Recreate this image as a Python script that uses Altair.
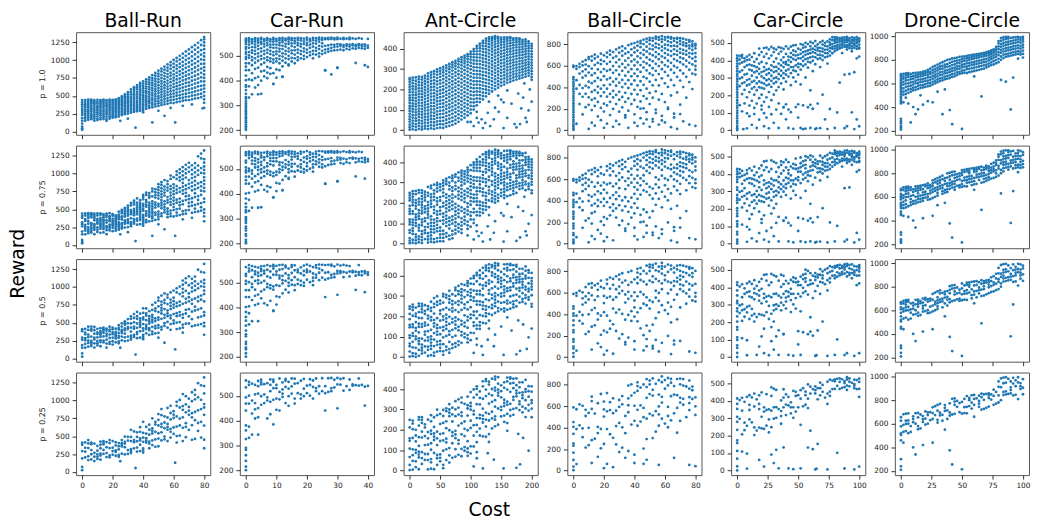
import altair as alt
import pandas as pd

ENVS = ["Ball-Run", "Car-Run", "Ant-Circle", "Ball-Circle", "Car-Circle", "Drone-Circle"]
P_LABELS = ["p = 1.0", "p = 0.75", "p = 0.5", "p = 0.25"]

X_DOMAIN = {"Ball-Run": [-4, 84], "Car-Run": [-2, 42], "Ant-Circle": [-10, 210],
            "Ball-Circle": [-4, 84], "Car-Circle": [-5, 105], "Drone-Circle": [-5, 105]}
Y_DOMAIN = {"Ball-Run": [-45, 1390], "Car-Run": [181, 594], "Ant-Circle": [-23, 482],
            "Ball-Circle": [-43, 913], "Car-Circle": [-27, 562], "Drone-Circle": [165, 1035]}
X_TICKS = {"Ball-Run": [0, 20, 40, 60, 80], "Car-Run": [0, 10, 20, 30, 40],
           "Ant-Circle": [0, 50, 100, 150, 200], "Ball-Circle": [0, 20, 40, 60, 80],
           "Car-Circle": [0, 25, 50, 75, 100], "Drone-Circle": [0, 25, 50, 75, 100]}
Y_TICKS = {"Ball-Run": [0, 250, 500, 750, 1000, 1250], "Car-Run": [200, 300, 400, 500],
           "Ant-Circle": [0, 100, 200, 300, 400], "Ball-Circle": [0, 200, 400, 600, 800],
           "Car-Circle": [0, 100, 200, 300, 400, 500], "Drone-Circle": [200, 400, 600, 800, 1000]}

# which runs are kept in each row (p = 1.0 keeps all, p = 0.25 the fewest)
TIER_SEQ = [int(c) for c in (
    "3709528416" "9307582641" "8059361724" "9508637214" "5072981364"
    "2816049573" "6493108275" "1847290365" "0538176942" "7265013849")]
ROW_KEEP = [10, 8, 6, 4]

# cost -> rewards
BALL_RUN = {
    0: [25, 45, 70, 112, 150, 188, 232, 262, 291, 318, 352, 381, 409, 440],
    2: [150, 178, 203, 231, 254, 283, 309, 337, 362, 384, 412, 441],
    4: [165, 192, 218, 251, 272, 298, 333, 352, 377, 399, 427, 445],
    6: [174, 201, 226, 247, 279, 306, 327, 358, 388, 411, 431, 446],
    8: [152, 184, 212, 238, 266, 292, 318, 346, 371, 396, 419, 440],
    10: [161, 182, 214, 246, 268, 296, 317, 341, 364, 392, 414, 444],
    12: [171, 196, 229, 254, 277, 301, 331, 354, 381, 401, 424, 441],
    14: [176, 199, 224, 251, 281, 308, 336, 359, 386, 409, 431, 446],
    16: [151, 172, 208, 241, 263, 287, 314, 346, 369, 391, 418, 440],
    18: [181, 204, 231, 259, 286, 309, 334, 356, 379, 404, 426, 445],
    20: [194, 216, 241, 268, 291, 316, 339, 366, 386, 408, 431, 442],
    22: [201, 226, 254, 279, 302, 326, 348, 371, 394, 416, 434, 451],
    24: [212, 238, 266, 289, 316, 336, 359, 382, 404, 426, 446, 466],
    26: [231, 254, 281, 306, 329, 356, 379, 401, 424, 446, 469, 491],
    28: [244, 271, 296, 319, 346, 369, 396, 421, 444, 471, 494, 519],
    30: [251, 279, 306, 331, 359, 386, 411, 439, 466, 491, 521, 551],
    32: [264, 291, 319, 351, 376, 404, 431, 461, 489, 521, 554, 589],
    34: [276, 301, 329, 361, 389, 416, 446, 474, 506, 534, 566, 594, 621],
    36: [284, 311, 341, 369, 401, 429, 461, 489, 521, 554, 591, 619, 651],
    38: [291, 321, 349, 381, 409, 441, 469, 501, 529, 561, 589, 626, 654, 681],
    40: [301, 329, 361, 389, 421, 449, 481, 509, 546, 574, 606, 639, 671, 701],
    42: [319, 351, 379, 411, 439, 471, 499, 536, 564, 601, 629, 666, 699, 731],
    44: [331, 359, 396, 424, 456, 489, 521, 554, 591, 624, 661, 689, 726, 759],
    46: [339, 376, 404, 441, 469, 506, 539, 576, 609, 646, 679, 716, 749, 789],
    48: [351, 384, 421, 454, 491, 524, 561, 594, 631, 664, 701, 739, 781, 819],
    50: [359, 396, 429, 466, 499, 541, 574, 611, 649, 691, 729, 771, 809, 851],
    52: [371, 404, 441, 479, 516, 554, 591, 629, 671, 709, 751, 794, 841, 879],
    54: [381, 419, 456, 494, 531, 569, 611, 649, 691, 734, 776, 819, 866, 909],
    56: [389, 431, 469, 511, 549, 591, 629, 671, 714, 761, 804, 851, 894, 941],
    58: [401, 439, 481, 519, 561, 601, 644, 691, 734, 781, 824, 876, 924, 971],
    60: [399, 446, 489, 531, 574, 621, 664, 711, 754, 801, 849, 901, 949, 1001],
    62: [411, 454, 501, 544, 591, 634, 681, 729, 776, 824, 876, 924, 981, 1029],
    64: [419, 466, 509, 556, 601, 649, 696, 744, 796, 844, 901, 949, 1006, 1059],
    66: [431, 474, 521, 569, 616, 664, 716, 764, 816, 869, 921, 974, 1031, 1089],
    68: [439, 486, 529, 581, 629, 681, 729, 781, 834, 891, 944, 1001, 1059, 1121],
    70: [441, 489, 541, 589, 641, 689, 746, 799, 856, 909, 966, 1024, 1086, 1149],
    72: [449, 501, 549, 601, 654, 711, 764, 821, 874, 936, 989, 1051, 1114, 1181],
    74: [461, 509, 561, 614, 671, 724, 781, 839, 896, 954, 1016, 1079, 1146, 1209],
    76: [469, 521, 574, 631, 684, 741, 799, 861, 919, 981, 1044, 1111, 1174, 1241],
    78: [481, 529, 586, 639, 701, 759, 821, 879, 946, 1009, 1076, 1139, 1211, 1279],
    80: [331, 402, 451, 498, 552, 601, 648, 702, 751, 798, 852, 901, 949, 1002,
         1051, 1098, 1152, 1201, 1249, 1291, 1322],
}
BALL_RUN_SPARSE = [(35, 55), (46, 128), (54, 220), (61, 128), (79, 325), (25, 150),
                   (30, 180), (40, 270), (50, 290), (58, 330), (66, 360), (72, 380)]

CAR_RUN = {
    0: [201, 208, 215, 222, 231, 238, 246, 252, 261, 268, 276, 283, 291, 298, 306, 315,
        326, 333, 346, 361, 374, 381, 401, 419, 441, 455, 469, 486, 494, 506, 514, 526,
        534, 546, 555, 562, 568],
    1: [331, 376, 404, 441, 469, 491, 501, 514, 531, 544, 556, 564, 570],
    2: [344, 401, 429, 461, 481, 494, 511, 521, 534, 549, 557, 566],
    3: [371, 409, 446, 471, 489, 506, 519, 533, 544, 556, 563, 570],
    4: [344, 381, 414, 451, 479, 496, 509, 526, 539, 552, 560, 568],
    5: [346, 399, 436, 464, 486, 499, 516, 529, 546, 554, 565, 571],
    6: [416, 439, 471, 489, 506, 519, 536, 547, 559, 566],
    7: [409, 431, 454, 481, 494, 511, 524, 541, 551, 562, 570],
    8: [426, 449, 476, 489, 506, 519, 533, 544, 557, 566],
    9: [386, 429, 471, 484, 501, 514, 531, 544, 556, 565, 571],
    10: [411, 444, 476, 489, 506, 517, 531, 544, 558, 567],
    11: [441, 469, 486, 499, 516, 527, 541, 551, 562, 570],
    12: [414, 456, 479, 496, 509, 526, 539, 554, 563, 571],
    13: [471, 489, 506, 519, 536, 547, 561, 568],
    14: [464, 486, 499, 516, 529, 546, 556, 566, 572],
    15: [476, 491, 509, 521, 538, 549, 562, 570],
    16: [469, 489, 504, 521, 534, 549, 559, 569],
    17: [481, 494, 511, 524, 541, 551, 563, 571],
    18: [489, 506, 519, 536, 547, 561, 570],
    19: [486, 499, 516, 529, 546, 557, 568],
    20: [494, 511, 524, 541, 551, 564, 572],
    21: [501, 514, 531, 544, 558, 567],
    22: [489, 506, 519, 536, 549, 562, 571],
    23: [504, 519, 531, 548, 560, 570],
    24: [496, 509, 526, 539, 556, 566, 572],
    25: [506, 519, 536, 549, 563, 571],
    26: [441, 511, 524, 539, 566, 570],
    27: [516, 527, 541, 566, 571],
    28: [424, 519, 531, 544, 567, 572],
    29: [521, 534, 543, 565, 570],
    30: [451, 522, 536, 546, 566, 572],
    31: [524, 538, 545, 568],
    32: [521, 534, 542, 566, 571],
    33: [527, 539, 545, 568],
    34: [524, 536, 544, 566, 572],
    35: [529, 541, 546, 569],
    36: [527, 537, 543, 567],
    37: [531, 541, 546, 570],
    38: [529, 539, 544, 568],
    39: [461, 527, 537, 545],
    40: [454, 531, 540, 567],
}
CAR_RUN_SPARSE = [(12, 415), (9, 385), (26, 440), (30, 450), (14, 460), (36, 470)]

ANT_CIRCLE = {
    0: [2, 14, 27, 41, 53, 66, 80, 94, 107, 119, 133, 146, 158, 171, 186, 199, 212, 224, 237, 249, 256],
    5: [4, 19, 33, 47, 62, 75, 91, 104, 118, 131, 147, 160, 174, 189, 203, 216, 231, 245, 258],
    10: [1, 16, 30, 45, 58, 73, 87, 101, 116, 129, 143, 157, 172, 185, 200, 214, 228, 243, 259],
    15: [6, 21, 35, 49, 64, 78, 92, 106, 121, 135, 149, 164, 178, 192, 206, 221, 236, 250, 263],
    20: [3, 17, 32, 46, 61, 76, 90, 104, 119, 133, 148, 162, 177, 191, 205, 220, 234, 249, 262],
    25: [8, 22, 37, 52, 66, 81, 96, 110, 125, 139, 154, 169, 183, 198, 212, 227, 241, 255, 268],
    30: [5, 20, 35, 51, 66, 81, 97, 112, 127, 143, 158, 173, 189, 204, 219, 235, 250, 265, 279],
    35: [9, 24, 40, 56, 71, 87, 102, 118, 134, 149, 165, 180, 196, 211, 227, 242, 258, 272, 285],
    40: [6, 22, 38, 54, 70, 86, 102, 118, 134, 150, 166, 182, 198, 214, 230, 246, 262, 277, 290],
    45: [10, 27, 43, 60, 76, 92, 109, 125, 142, 158, 174, 191, 207, 224, 240, 256, 272, 287, 299],
    50: [12, 29, 45, 62, 79, 95, 112, 129, 145, 162, 179, 196, 212, 229, 245, 262, 278, 292, 305],
    55: [11, 28, 46, 63, 80, 97, 114, 131, 148, 166, 183, 200, 217, 234, 251, 268, 284, 298, 311],
    60: [17, 34, 51, 69, 86, 104, 121, 138, 156, 173, 190, 208, 225, 242, 259, 276, 292, 306, 319],
    65: [21, 39, 57, 74, 92, 110, 127, 145, 163, 180, 198, 215, 233, 250, 267, 284, 300, 313, 326],
    70: [26, 44, 62, 80, 98, 116, 134, 152, 170, 188, 206, 224, 241, 259, 276, 293, 309, 322, 334],
    75: [32, 50, 68, 87, 105, 123, 141, 159, 177, 195, 213, 231, 249, 267, 284, 301, 316, 329, 341],
    80: [41, 59, 77, 95, 113, 131, 149, 167, 185, 203, 221, 239, 257, 275, 292, 309, 324, 338, 350],
    85: [52, 70, 88, 106, 124, 142, 160, 178, 196, 214, 232, 250, 268, 286, 303, 319, 334, 347, 359],
    90: [61, 79, 97, 115, 133, 151, 169, 187, 205, 223, 241, 259, 277, 295, 312, 328, 342, 355, 366],
    95: [72, 90, 108, 126, 144, 162, 180, 198, 216, 234, 252, 270, 288, 305, 321, 336, 350, 363, 374],
    100: [83, 101, 119, 137, 155, 173, 191, 209, 227, 245, 263, 281, 299, 316, 332, 347, 361, 374, 386],
    105: [101, 118, 136, 153, 171, 188, 206, 223, 241, 258, 276, 293, 310, 327, 343, 359, 374, 388, 399],
    110: [122, 139, 156, 173, 190, 207, 224, 241, 258, 275, 292, 309, 326, 342, 358, 373, 388, 402, 414],
    115: [138, 155, 172, 189, 206, 223, 240, 257, 274, 291, 308, 325, 341, 357, 373, 389, 403, 416, 426],
    120: [151, 168, 185, 202, 219, 236, 253, 270, 287, 304, 321, 337, 353, 369, 385, 400, 414, 428, 439],
    125: [166, 183, 200, 216, 233, 250, 267, 284, 301, 317, 334, 350, 366, 382, 398, 413, 427, 440, 450],
    130: [179, 196, 212, 229, 246, 262, 279, 296, 312, 329, 345, 361, 377, 393, 408, 423, 437, 448, 456],
    135: [190, 207, 223, 240, 256, 273, 289, 306, 322, 338, 354, 370, 386, 401, 416, 430, 443, 452, 458],
    140: [201, 217, 233, 250, 266, 282, 298, 314, 330, 346, 362, 378, 393, 408, 422, 436, 448, 457, 462],
    145: [209, 225, 241, 257, 273, 289, 305, 321, 337, 352, 368, 383, 398, 413, 427, 440, 451, 459],
    150: [218, 234, 250, 266, 282, 297, 313, 329, 344, 360, 375, 390, 405, 419, 433, 445, 455],
    155: [224, 239, 255, 270, 286, 301, 317, 332, 348, 363, 378, 393, 407, 421, 434, 446, 456],
    160: [233, 248, 263, 278, 294, 309, 324, 339, 354, 369, 384, 398, 412, 426, 439, 450, 457],
    165: [238, 253, 268, 283, 298, 313, 328, 343, 358, 373, 387, 401, 415, 428, 441, 452, 458],
    170: [244, 259, 274, 288, 303, 318, 333, 347, 362, 376, 391, 405, 418, 431, 443, 452],
    175: [249, 264, 278, 293, 307, 322, 336, 351, 365, 379, 393, 407, 420, 433, 444, 453],
    180: [254, 268, 283, 297, 311, 326, 340, 354, 368, 382, 396, 409, 422, 434, 445, 451],
    185: [258, 272, 286, 300, 314, 328, 342, 356, 370, 384, 397, 410, 423, 434, 444],
    190: [263, 277, 291, 305, 319, 332, 346, 360, 374, 387, 400, 413, 425, 436, 446],
    195: [268, 282, 295, 309, 323, 336, 350, 363, 377, 390, 403, 415, 427, 437],
    200: [248, 262, 276, 290, 304, 318, 332, 346, 360, 374, 388, 402, 414, 425],
}
ANT_CIRCLE_SPARSE = [(100, 40), (105, 20), (110, 60), (113, 37), (118, 53), (120, 10), (124, 35),
                     (128, 85), (132, 20), (138, 53), (140, 110), (146, 90), (150, 150), (154, 137),
                     (154, 10), (160, 60), (167, 130), (172, 30), (175, 13), (178, 180), (181, 30),
                     (183, 107), (186, 160), (190, 60), (192, 40), (195, 97), (197, 200), (200, 140),
                     (188, 230), (160, 195), (145, 170), (130, 140), (110, 90), (95, 40)]

BALL_CIRCLE = {
    0: [3, 18, 37, 55, 79, 98, 121, 143, 166, 187, 209, 231, 252, 276, 297, 318, 341, 362,
        384, 407, 428, 451, 473, 494, 588, 601],
    2: [386, 466, 571, 597],
    4: [243, 338, 421, 527, 588, 617],
    6: [147, 311, 392, 489, 547, 603, 638],
    8: [214, 339, 413, 508, 566, 611, 652],
    10: [236, 306, 398, 452, 537, 596, 663, 681],
    12: [187, 283, 356, 438, 512, 574, 647, 688],
    14: [226, 296, 373, 457, 531, 608, 668, 703],
    16: [128, 263, 349, 406, 487, 566, 627, 684],
    18: [207, 318, 387, 468, 541, 616, 654, 713],
    20: [173, 247, 352, 418, 503, 569, 642, 697],
    22: [231, 312, 386, 473, 552, 618, 681, 722],
    24: [141, 264, 338, 425, 486, 563, 637, 703, 741],
    26: [198, 305, 367, 452, 534, 597, 673, 728],
    28: [86, 243, 328, 414, 477, 558, 632, 688, 752],
    30: [172, 284, 357, 443, 517, 593, 657, 722, 768],
    32: [213, 309, 402, 468, 553, 617, 694, 738, 781],
    34: [118, 263, 348, 432, 508, 583, 648, 713, 762],
    36: [182, 296, 393, 466, 543, 608, 672, 727, 792],
    38: [243, 337, 428, 502, 568, 641, 698, 753, 803],
    40: [148, 281, 376, 463, 527, 603, 658, 724, 768, 812],
    42: [218, 333, 417, 503, 566, 633, 688, 742, 787, 822],
    44: [112, 268, 372, 456, 543, 607, 672, 718, 773, 808, 831],
    46: [204, 318, 423, 497, 583, 637, 703, 748, 802, 843],
    48: [168, 293, 387, 483, 557, 622, 677, 733, 778, 823, 852],
    50: [243, 347, 452, 528, 603, 657, 712, 758, 802, 838, 861],
    52: [103, 302, 418, 513, 577, 643, 698, 752, 788, 833, 858],
    54: [192, 362, 468, 553, 618, 682, 728, 773, 808, 852, 871],
    56: [284, 417, 523, 597, 662, 708, 763, 798, 842, 866],
    58: [133, 338, 483, 568, 633, 687, 742, 778, 823, 848, 877],
    60: [262, 437, 543, 607, 673, 718, 762, 797, 843, 868],
    62: [197, 403, 508, 593, 647, 703, 748, 793, 828, 862, 869],
    64: [323, 468, 563, 628, 693, 737, 783, 818, 853, 866],
    66: [153, 418, 533, 598, 663, 708, 753, 787, 832, 856],
    68: [352, 497, 583, 647, 702, 738, 782, 817, 852, 861],
    70: [238, 462, 557, 633, 677, 722, 758, 803, 833, 857],
    72: [402, 528, 613, 668, 712, 748, 792, 818, 852],
    74: [303, 497, 593, 648, 703, 738, 783, 808, 843],
    76: [448, 563, 628, 683, 718, 763, 788, 823, 838],
    78: [383, 527, 613, 667, 712, 748, 782, 802, 828],
    80: [518, 563, 598, 643, 682, 718, 763, 788, 803],
}
BALL_CIRCLE_SPARSE = [(2, 60), (10, 12), (12, 70), (14, 42), (18, 93), (20, 22), (22, 61),
                      (26, 31), (30, 55), (34, 140), (36, 22), (40, 70), (42, 38), (46, 62),
                      (50, 31), (52, 80), (56, 52), (60, 72), (64, 28), (66, 118), (68, 12),
                      (72, 82), (76, 52), (80, 40), (44, 200), (54, 160), (62, 210), (48, 100),
                      (58, 90), (70, 150)]

CAR_CIRCLE = {
    0: [0, 11, 23, 38, 52, 67, 83, 98, 112, 128, 141, 157, 172, 188, 203, 217, 233, 248,
        262, 279, 293, 308, 322, 338, 353, 367, 382, 398, 413, 428],
    2: [143, 252, 296, 334, 381, 404, 426],
    4: [108, 207, 268, 302, 343, 388, 417, 431],
    6: [153, 231, 274, 318, 362, 394, 412],
    8: [96, 188, 256, 287, 323, 371, 402, 422],
    10: [141, 218, 262, 293, 347, 376, 404, 432],
    12: [168, 238, 276, 312, 342, 372, 419],
    14: [127, 203, 247, 283, 331, 367, 392, 441],
    16: [152, 229, 268, 302, 338, 361, 408],
    18: [183, 246, 279, 323, 352, 382, 431, 468],
    20: [118, 203, 242, 272, 308, 333, 391, 448],
    22: [97, 162, 238, 267, 298, 338, 362, 421, 471],
    24: [188, 257, 286, 318, 347, 383, 438, 474],
    26: [133, 218, 262, 293, 327, 351, 412, 463],
    28: [172, 248, 283, 312, 343, 372, 428, 477],
    30: [203, 268, 297, 333, 362, 392, 448, 469],
    32: [118, 228, 276, 302, 338, 363, 411, 462],
    34: [153, 247, 293, 322, 352, 382, 438, 476],
    36: [268, 312, 341, 372, 402, 451, 472],
    38: [132, 233, 298, 327, 362, 388, 418, 466],
    40: [148, 278, 318, 341, 378, 392, 437, 481],
    42: [118, 307, 348, 373, 402, 422, 467],
    44: [258, 327, 362, 391, 418, 442, 479],
    46: [302, 343, 362, 408, 432, 457, 486],
    48: [278, 338, 372, 402, 428, 451, 488],
    50: [148, 318, 362, 381, 412, 432, 468],
    52: [262, 347, 378, 412, 438, 461, 494],
    54: [368, 397, 421, 447, 472, 489],
    56: [302, 377, 407, 432, 452, 477, 501],
    58: [358, 392, 412, 438, 457, 494],
    60: [228, 388, 418, 441, 462, 481, 506],
    62: [122, 338, 398, 422, 448, 467, 499],
    64: [378, 418, 442, 461, 482, 511],
    66: [408, 432, 457, 472, 492],
    68: [362, 412, 431, 452, 472, 504],
    70: [402, 427, 451, 468, 491, 512],
    72: [418, 442, 461, 483, 501],
    74: [382, 422, 441, 462, 481, 509],
    76: [428, 452, 471, 488, 502, 521],
    78: [441, 467, 478, 494, 516, 533],
    80: [452, 468, 482, 501, 512, 522, 534],
    82: [461, 473, 486, 503, 518, 526, 532],
    84: [468, 479, 491, 508, 517, 528],
    86: [442, 474, 488, 497, 511, 523, 531],
    88: [318, 478, 486, 502, 513, 519, 532],
    90: [462, 476, 487, 506, 514, 522, 535],
    92: [322, 471, 483, 493, 509, 518, 528],
    94: [452, 468, 481, 498, 503, 516, 532],
    96: [332, 472, 487, 496, 511, 521, 529],
    98: [412, 467, 482, 499, 507, 519, 533],
    100: [422, 468, 474, 491, 508, 517, 527],
}
CAR_CIRCLE_SPARSE = [(5, 5), (8, 10), (10, 80), (12, 30), (14, 92), (16, 12), (18, 60),
                     (20, 140), (22, 22), (24, 72), (26, 10), (28, 91), (30, 42), (34, 12),
                     (36, 93), (38, 130), (40, 62), (42, 12), (44, 103), (46, 7), (48, 132),
                     (50, 72), (52, 12), (54, 5), (54, 142), (58, 131), (60, 12), (62, 122),
                     (64, 6), (66, 152), (68, 11), (70, 203), (72, 61), (74, 6), (76, 121),
                     (80, 12), (82, 101), (84, 272), (88, 11), (90, 22), (94, 102), (96, 6),
                     (98, 61), (100, 22), (56, 8), (65, 10), (60, 145)]

DRONE_CIRCLE = {
    0: [210, 225, 240, 262, 280, 300, 431, 446, 459, 476, 489, 506, 519, 536, 549, 566,
        579, 596, 609, 626, 639, 656, 669, 680],
    2: [440, 505, 531, 559, 591, 614, 641, 659, 681],
    4: [480, 511, 539, 571, 599, 626, 649, 671, 686],
    6: [430, 521, 549, 576, 601, 629, 656, 674, 688],
    8: [270, 531, 554, 581, 609, 636, 659, 681],
    10: [400, 541, 564, 591, 614, 641, 664, 688],
    12: [340, 546, 569, 601, 624, 651, 669, 690],
    14: [380, 554, 581, 604, 631, 654, 676, 692],
    16: [500, 561, 584, 611, 634, 661, 679, 695],
    18: [420, 566, 589, 616, 639, 666, 684, 700],
    20: [571, 594, 621, 644, 671, 689, 705],
    22: [450, 576, 601, 624, 651, 674, 696, 715],
    24: [581, 604, 631, 654, 681, 699, 725],
    26: [440, 591, 614, 641, 664, 691, 714, 740],
    28: [601, 624, 651, 674, 701, 724, 750],
    30: [530, 611, 634, 661, 684, 711, 734, 760],
    32: [621, 644, 671, 694, 721, 744, 770],
    34: [340, 626, 649, 676, 699, 726, 749, 780],
    36: [550, 636, 659, 686, 709, 736, 759, 790],
    38: [641, 664, 691, 714, 741, 764, 800],
    40: [375, 646, 669, 696, 719, 746, 774, 805],
    42: [255, 656, 679, 706, 729, 756, 784, 812],
    44: [661, 684, 711, 734, 761, 789, 815],
    46: [671, 694, 721, 744, 771, 794, 820],
    48: [681, 699, 726, 749, 776, 799, 825],
    50: [214, 686, 709, 736, 759, 786, 807, 828],
    52: [691, 714, 741, 764, 791, 811, 830],
    54: [689, 721, 744, 771, 794, 816, 835],
    56: [696, 724, 751, 774, 801, 819, 838],
    58: [701, 729, 756, 779, 806, 824, 842],
    60: [660, 706, 734, 761, 784, 811, 829, 845],
    62: [711, 739, 766, 789, 816, 834, 848],
    64: [716, 744, 771, 794, 821, 839, 852],
    66: [490, 721, 749, 776, 799, 826, 844, 856],
    68: [726, 754, 781, 804, 831, 849, 860],
    70: [736, 759, 786, 809, 836, 854, 865],
    72: [746, 769, 796, 819, 841, 859, 872],
    74: [756, 779, 806, 827, 849, 865, 880],
    76: [761, 789, 816, 837, 859, 875, 890],
    78: [771, 799, 826, 847, 871, 889, 910],
    80: [781, 809, 841, 864, 891, 914, 941, 960],
    82: [630, 801, 829, 861, 884, 911, 934, 961, 985],
    84: [816, 844, 871, 894, 921, 944, 971, 992],
    86: [615, 826, 849, 876, 899, 926, 949, 976, 995],
    88: [831, 854, 881, 904, 931, 954, 981, 995],
    90: [380, 836, 859, 886, 909, 936, 959, 986],
    92: [650, 841, 864, 891, 914, 941, 964, 990],
    94: [846, 869, 896, 919, 946, 969, 992],
    96: [810, 851, 874, 901, 924, 951, 974, 995],
    98: [846, 869, 896, 919, 946, 969, 990],
    100: [820, 851, 879, 906, 929, 956, 979, 995],
}

COLUMNS = {"Ball-Run": (BALL_RUN, BALL_RUN_SPARSE), "Car-Run": (CAR_RUN, CAR_RUN_SPARSE),
           "Ant-Circle": (ANT_CIRCLE, ANT_CIRCLE_SPARSE),
           "Ball-Circle": (BALL_CIRCLE, BALL_CIRCLE_SPARSE),
           "Car-Circle": (CAR_CIRCLE, CAR_CIRCLE_SPARSE), "Drone-Circle": (DRONE_CIRCLE, [])}


def build_frame(cols, sparse):
    pts = [(x, y) for x, ys in cols.items() for y in ys] + list(sparse)
    return pd.DataFrame([{"cost": x, "reward": y, "tier": TIER_SEQ[k % len(TIER_SEQ)]}
                         for k, (x, y) in enumerate(pts)])


FRAMES = {env: build_frame(*COLUMNS[env]) for env in ENVS}

FONT = "DejaVu Sans"


def panel(env, ci, ri):
    x_axis = alt.Axis(values=X_TICKS[env], labels=(ri == 3), format="d")
    y_scale = alt.Scale(domain=Y_DOMAIN[env], nice=False, zero=False)
    if ci == 0:
        y_enc = alt.Y("reward:Q", scale=y_scale,
                      axis=alt.Axis(values=Y_TICKS[env], format="d", title=P_LABELS[ri]))
    else:
        y_enc = alt.Y("reward:Q", scale=y_scale,
                      axis=alt.Axis(values=Y_TICKS[env], format="d"), title=None)
    ch = (
        alt.Chart(FRAMES[env])
        .transform_filter(alt.datum.tier < ROW_KEEP[ri])
        .mark_circle(size=8, opacity=1, color="#1f77b4")
        .encode(
            x=alt.X("cost:Q", scale=alt.Scale(domain=X_DOMAIN[env], nice=False, zero=False),
                    axis=x_axis, title=None),
            y=y_enc,
        )
        .properties(width=136, height=104)
    )
    if ri == 0:
        ch = ch.properties(title=alt.TitleParams(env, fontSize=19, font=FONT, fontWeight="normal",
                                                 color="black", anchor="middle", offset=1))
    return ch


panels = [panel(env, ci, ri) for ri in range(4) for ci, env in enumerate(ENVS)]

grid = alt.concat(*panels, columns=6, spacing={"row": 11, "column": 30}, bounds="flush").properties(
    title=alt.TitleParams("Reward", orient="left", anchor="middle", fontSize=19, font=FONT,
                          fontWeight="normal", color="black", offset=10, dx=-13)
)

chart = (
    alt.vconcat(grid)
    .properties(
        title=alt.TitleParams("Cost", orient="bottom", anchor="middle", fontSize=19, font=FONT,
                              fontWeight="normal", color="black", offset=11, dx=-31),
        padding={"left": 1, "top": 0, "right": 0, "bottom": 0},
    )
    .configure_view(stroke="#555", strokeWidth=1)
    .configure_axis(
        domain=False, grid=False, tickColor="#333", tickSize=4, tickWidth=1,
        labelFont=FONT, labelFontSize=7.5, labelColor="#222", labelPadding=3,
        titleFont=FONT, titleFontSize=8, titleFontWeight="normal", titleColor="#222",
        titlePadding=4,
    )
)

chart.save("out.html", embed_options={"renderer": "svg", "actions": False})
